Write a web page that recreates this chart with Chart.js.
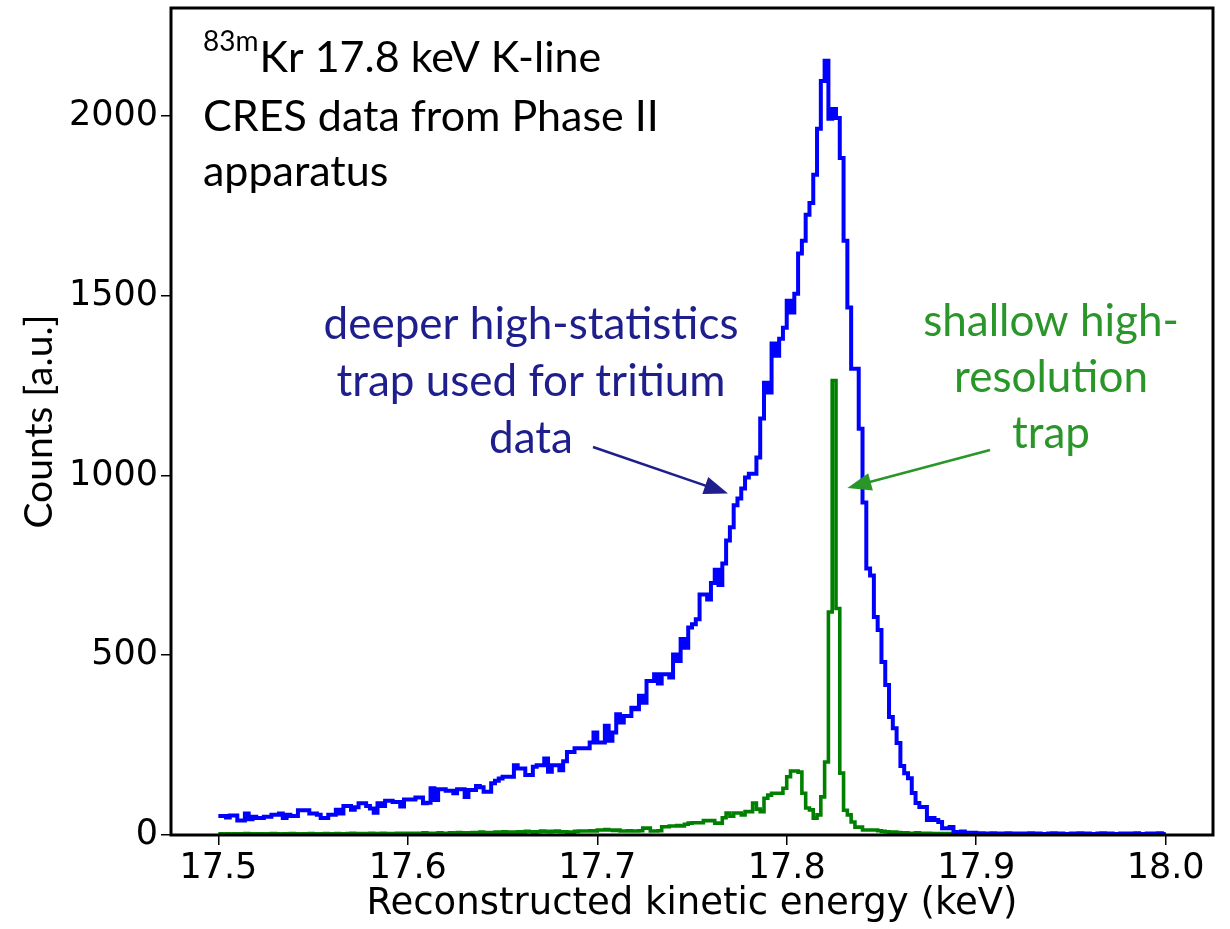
<!DOCTYPE html>
<html>
<head>
<meta charset="utf-8">
<title>Kr K-line CRES spectrum</title>
<script src="https://cdn.jsdelivr.net/npm/chart.js@4.4.1/dist/chart.umd.min.js"></script>
<style>
  html, body { margin: 0; padding: 0; background: #fff; }
  #wrap { width: 1230px; height: 929px; }
</style>
</head>
<body>
<div id="wrap"><canvas id="krChart" width="1230" height="929"></canvas></div>
<script>
// histogram bins: 2 eV wide, starting at 17.5 keV
const binStart = 17.5
const binWidth = 0.002

// deep trap (blue), counts per bin
const deepCounts = [
  53,53,49,54,54,40,40,60,44,51,
  47,47,51,51,56,56,60,47,56,53,
  53,69,69,69,60,60,56,47,47,56,
  56,70,60,81,81,70,77,88,88,81,
  74,62,88,81,95,95,92,92,79,99,
  99,99,104,104,88,90,130,97,127,127,
  123,123,116,127,127,106,125,125,136,133,
  120,120,144,151,157,162,162,162,194,185,
  185,167,167,190,194,194,213,176,194,194,
  180,205,231,231,241,241,241,241,257,285,
  257,257,304,262,285,336,313,331,331,354,
  350,387,368,428,428,447,421,447,447,438,
  502,484,545,521,577,586,600,669,669,655,
  701,738,695,755,819,856,917,936,964,994,
  1005,1005,1050,1158,1258,1231,1367,1333,1380,1411,
  1486,1453,1505,1617,1653,1725,1758,1836,1964,2097,
  2153,1992,2019,1994,1883,1653,1467,1297,1297,1130,
  925,741,722,606,570,481,417,328,297,256,
  192,172,158,117,89,78,78,42,47,42,
  36,19,19,22,8,8,10,6,5,6,
  4,5,3,4,5,3,4,3,5,4,
  3,4,4,3,5,3,4,3,3,4,
  5,3,4,3,3,4,3,5,3,4,
  3,3,4,5,3,4,3,3,4,3,
  4,3,5,3,3,4,3,4,5,3
]

// shallow trap (green)
const shallowCounts = [
  3,2,3,2,3,3,2,4,3,2,
  3,3,2,3,4,3,2,3,3,4,
  3,2,3,3,4,3,2,3,4,3,
  3,4,3,3,4,5,3,4,3,4,
  5,3,4,5,4,3,4,5,4,5,
  4,5,5,4,6,5,4,5,6,5,
  5,6,5,7,6,5,6,7,6,8,
  7,6,7,8,7,9,8,7,8,9,
  8,10,9,8,9,11,10,9,10,11,
  9,9,8,8,10,11,11,11,12,11,
  14,14,15,14,13,14,11,11,12,11,
  11,12,19,19,11,11,12,23,23,25,
  25,26,25,30,33,34,34,34,40,40,
  40,33,33,48,61,52,61,61,56,65,
  65,89,72,65,102,111,116,116,116,130,
  162,178,178,175,116,75,70,47,56,106,
  203,620,1264,630,172,69,56,36,22,22,
  14,14,14,14,12,10,9,8,8,7,
  6,6,5,5,6,5,4,5,4,4,
  4,3,4,3,3,4,3,3,2,3,
  3,2,3,2,3,3,2,2,3,2,
  2,3,2,2,3,2,2,3,2,2,
  3,2,2,2,3,2,2,3,2,2,
  2,3,2,2,2,3,2,2,2,3,
  2,2,3,2,2,2,3,2,2,2
]

const xTicks = [17.5, 17.6, 17.7, 17.8, 17.9, 18.0]
const yTicks = [0, 500, 1000, 1500, 2000]

const titleLines = ['Kr 17.8 keV K-line', 'CRES data from Phase II', 'apparatus']
const deepNote = ['deeper high-statistics', 'trap used for tritium', 'data']
const shallowNote = ['shallow high-', 'resolution', 'trap']

// arrow tips in data units (keV, counts)
const deepArrowTip = [17.769, 950]
const shallowArrowTip = [17.832, 965]

// step outline: one point per left bin edge + the closing right edge
function stepPoints(counts) {
  var pts = counts.map(function (c, i) {
    return { x: binStart + i * binWidth, y: c }
  })
  pts.push({ x: binStart + counts.length * binWidth, y: counts[counts.length - 1] })
  return pts
}

const navy = '#1e1e8c'
const leaf = '#2a962a'

function arrow(ctx, x0, y0, x1, y1, color) {
  var ang = Math.atan2(y1 - y0, x1 - x0)
  var headLen = 24, headW = 9
  ctx.save()
  ctx.strokeStyle = color
  ctx.fillStyle = color
  ctx.lineWidth = 2.5
  ctx.beginPath()
  ctx.moveTo(x0, y0)
  ctx.lineTo(x1 - Math.cos(ang) * headLen * 0.8, y1 - Math.sin(ang) * headLen * 0.8)
  ctx.stroke()
  ctx.beginPath()
  ctx.moveTo(x1, y1)
  ctx.lineTo(x1 - Math.cos(ang) * headLen - Math.sin(ang) * headW, y1 - Math.sin(ang) * headLen + Math.cos(ang) * headW)
  ctx.lineTo(x1 - Math.cos(ang) * headLen + Math.sin(ang) * headW, y1 - Math.sin(ang) * headLen - Math.cos(ang) * headW)
  ctx.closePath()
  ctx.fill()
  ctx.restore()
}

// frame + text notes + arrows
const notesPlugin = {
  id: 'notes',
  afterDraw: function (chart) {
    var ctx = chart.ctx
    var a = chart.chartArea
    var xs = chart.scales.x, ys = chart.scales.y

    ctx.save()
    ctx.strokeStyle = '#000'
    ctx.lineWidth = 3
    ctx.strokeRect(a.left, a.top, a.right - a.left, a.bottom - a.top)

    ctx.fillStyle = '#000'
    ctx.textBaseline = 'middle'
    ctx.textAlign = 'left'
    ctx.font = '28px Lato'
    ctx.fillText('83m', 203, 42)
    var supW = ctx.measureText('83m').width
    ctx.font = '43px Lato'
    ctx.fillText(titleLines[0], 203 + supW + 1, 58)
    ctx.fillText(titleLines[1], 203, 117)
    ctx.fillText(titleLines[2], 203, 172)

    ctx.textAlign = 'center'
    ctx.font = '44px Lato'
    ctx.fillStyle = navy
    deepNote.forEach(function (t, i) { ctx.fillText(t, 531, 325 + i * 57) })
    ctx.fillStyle = leaf
    shallowNote.forEach(function (t, i) { ctx.fillText(t, 1051, 322 + i * 56) })
    ctx.restore()

    arrow(ctx, 593, 447, xs.getPixelForValue(deepArrowTip[0]), ys.getPixelForValue(deepArrowTip[1]), navy)
    arrow(ctx, 990, 450, xs.getPixelForValue(shallowArrowTip[0]), ys.getPixelForValue(shallowArrowTip[1]), leaf)
  }
}

const data = {
  datasets: [
    {
      label: 'deep trap',
      data: stepPoints(deepCounts),
      borderColor: '#0000ff',
      borderWidth: 4,
      stepped: 'before',
      pointRadius: 0,
      fill: false
    },
    {
      label: 'shallow trap',
      data: stepPoints(shallowCounts),
      borderColor: '#008000',
      borderWidth: 3.6,
      stepped: 'before',
      pointRadius: 0,
      fill: false
    }
  ]
}

const config = {
  type: 'line',
  data: data,
  options: {
    responsive: false,
    animation: false,
    devicePixelRatio: 1,
    layout: { padding: { top: 8, right: 17, left: 0, bottom: 0 } },
    plugins: { legend: { display: false }, tooltip: { enabled: false } },
    scales: {
      x: {
        type: 'linear',
        min: 17.475,
        max: 18.025,
        afterBuildTicks: function (s) { s.ticks = xTicks.map(function (v) { return { value: v } }) },
        afterFit: function (s) {
          s.height = 94
          s.paddingLeft = 0
          s.paddingRight = 0
        },
        grid: { drawOnChartArea: false, drawTicks: true, tickLength: 10, color: '#000', lineWidth: 1.5 },
        border: { display: false },
        ticks: {
          color: '#000',
          padding: 3,
          maxRotation: 0,
          font: { family: 'DejaVu Sans', size: 35 },
          callback: function (v) { return Number(v).toFixed(1) }
        },
        title: {
          display: true,
          text: 'Reconstructed kinetic energy (keV)',
          color: '#000',
          font: { family: 'DejaVu Sans', size: 37 },
          padding: { top: 0, bottom: 2 }
        }
      },
      y: {
        min: 0,
        max: 2300,
        afterBuildTicks: function (s) { s.ticks = yTicks.map(function (v) { return { value: v } }) },
        afterFit: function (s) {
          s.width = 171
          s.paddingTop = 0
          s.paddingBottom = 0
        },
        grid: { drawOnChartArea: false, drawTicks: true, tickLength: 10, color: '#000', lineWidth: 1.5 },
        border: { display: false },
        ticks: {
          color: '#000',
          padding: 3,
          font: { family: 'DejaVu Sans', size: 35 },
          callback: function (v) { return String(v) }
        },
        title: {
          display: true,
          text: 'Counts [a.u.]',
          color: '#000',
          font: { family: 'Lato', size: 39 },
          padding: { top: 16, bottom: 0 }
        }
      }
    }
  },
  plugins: [notesPlugin]
}

var graph = new Chart(document.getElementById('krChart'), config)
</script>
</body>
</html>
